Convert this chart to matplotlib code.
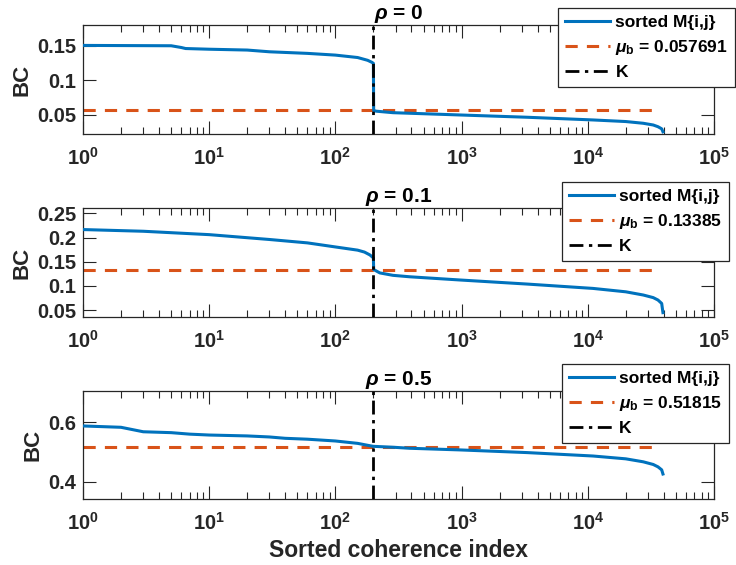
import numpy as np
import matplotlib
matplotlib.use('Agg')
import matplotlib.pyplot as plt
from matplotlib.ticker import FixedLocator, LogLocator, NullFormatter

plt.rcParams['font.family'] = ['Liberation Sans', 'DejaVu Sans']
plt.rcParams['font.weight'] = 'bold'
plt.rcParams['mathtext.fontset'] = 'custom'
plt.rcParams['mathtext.rm'] = 'Liberation Sans'
plt.rcParams['mathtext.it'] = 'Liberation Sans:italic'
plt.rcParams['mathtext.bf'] = 'Liberation Sans:bold'

# values
rhos = ['0', '0.1', '0.5']
K = 200
mu_b = [0.057691, 0.13385, 0.51815]
mu_end = 33000

idx_0 = [1, 5, 6, 6.5, 10, 20, 30, 60, 100, 150, 180, 195, 200, 201, 210, 286,
         970, 3300, 11000, 20000, 27500, 33000, 36000, 38500, 39400]
bc_0 = [0.1505, 0.150, 0.1475, 0.146, 0.145, 0.1438, 0.1413, 0.139, 0.1365, 0.133,
        0.129, 0.126, 0.1245, 0.0565, 0.0555, 0.0533, 0.050, 0.0467, 0.0428, 0.0405,
        0.038, 0.0355, 0.033, 0.030, 0.0257]

idx_1 = [1, 3, 10, 30, 60, 100, 150, 170, 188, 200, 201, 225, 286, 389, 970, 3300,
         11000, 20000, 27500, 33000, 36000, 38500, 39400]
bc_1 = [0.2165, 0.213, 0.206, 0.196, 0.189, 0.1806, 0.174, 0.170, 0.164, 0.158, 0.134,
        0.127, 0.122, 0.119, 0.1124, 0.104, 0.095, 0.088, 0.0814, 0.076, 0.071, 0.064,
        0.045]

idx_5 = [1, 2, 3, 5, 7, 10, 20, 30, 40, 60, 100, 150, 188, 200, 286, 389, 970, 3300,
         11000, 20000, 27500, 33000, 36000, 38500, 39400]
bc_5 = [0.5875, 0.583, 0.568, 0.565, 0.560, 0.557, 0.554, 0.5505, 0.546, 0.543, 0.537,
        0.529, 0.521, 0.519, 0.516, 0.5125, 0.507, 0.498, 0.4865, 0.477, 0.467, 0.458,
        0.450, 0.440, 0.426]

ylims = [(0.0225, 0.18), (0.036, 0.261), (0.342, 0.705)]
yticks = [[0.05, 0.1, 0.15], [0.05, 0.1, 0.15, 0.2, 0.25], [0.4, 0.6]]
ytick_labels = [['0.05', '0.1', '0.15'], ['0.05', '0.1', '0.15', '0.2', '0.25'], ['0.4', '0.6']]

series = [(idx_0, bc_0), (idx_1, bc_1), (idx_5, bc_5)]

blue = '#0072BD'
orange = '#D95319'
dark = '#262626'

W, H = 736, 565
fig = plt.figure(figsize=(W / 100, H / 100), dpi=100)

# axes boxes in pixels: (left, top, right, bottom)
boxes = [(83, 25, 714, 134), (83, 208, 714, 317), (83, 391, 714, 499)]
# legend upper-right corners in pixels
leg_corners = [(735, 8), (729, 182), (729, 364)]

for i, (x, y) in enumerate(series):
    l, t, r, b = boxes[i]
    ax = fig.add_axes([l / W, 1 - b / H, (r - l) / W, (b - t) / H])

    ax.plot(x, y, color=blue, lw=2.2, label='sorted M{i,j}', zorder=3)
    ax.plot([1, mu_end], [mu_b[i], mu_b[i]], color=orange, lw=2.2, ls=(0, (4, 3)),
            label=r'$\mu_\mathbf{b}$ = %g' % mu_b[i], zorder=2)
    ax.axvline(K, color='black', lw=2.0, ls=(0, (5, 2, 1.2, 2)), label='K', zorder=4)

    ax.set_xscale('log')
    ax.set_xlim(1, 1e5)
    ax.set_ylim(*ylims[i])

    ax.xaxis.set_major_locator(FixedLocator([1, 10, 100, 1e3, 1e4, 1e5]))
    ax.set_xticklabels([r'$\mathbf{10^{%d}}$' % e for e in range(6)])
    ax.xaxis.set_minor_locator(LogLocator(base=10, subs=np.arange(2, 10), numticks=20))
    ax.xaxis.set_minor_formatter(NullFormatter())
    ax.set_yticks(yticks[i])
    ax.set_yticklabels(ytick_labels[i])

    ax.tick_params(which='both', direction='in', top=True, right=True,
                   colors=dark, labelcolor=dark, width=0.8, labelsize=14.5)
    ax.tick_params(which='major', length=9.5, pad=5)
    ax.tick_params(axis='x', which='major', pad=9)
    ax.tick_params(which='minor', length=5)
    for s in ax.spines.values():
        s.set_color(dark)
        s.set_linewidth(0.9)

    ax.set_ylabel('BC', fontsize=16, fontweight='bold', color=dark, labelpad=3)
    ax.set_title(r'$\rho$ = ' + rhos[i], fontsize=15, fontweight='bold', pad=3)

    cx, cy = leg_corners[i]
    leg = ax.legend(loc='upper right', bbox_to_anchor=(cx / W, 1 - cy / H),
                    bbox_transform=fig.transFigure, borderaxespad=0, fancybox=False,
                    framealpha=1, edgecolor=dark, handlelength=2.6,
                    prop={'weight': 'bold', 'size': 12.5}, borderpad=0.4,
                    labelspacing=0.45, handletextpad=0.3)
    leg.get_frame().set_linewidth(0.9)
    leg.set_zorder(10)

    if i == 2:
        ax.set_xlabel('Sorted coherence index', fontsize=16.5, fontweight='bold',
                      color=dark, labelpad=4)

fig.savefig('out.png', dpi=100)
